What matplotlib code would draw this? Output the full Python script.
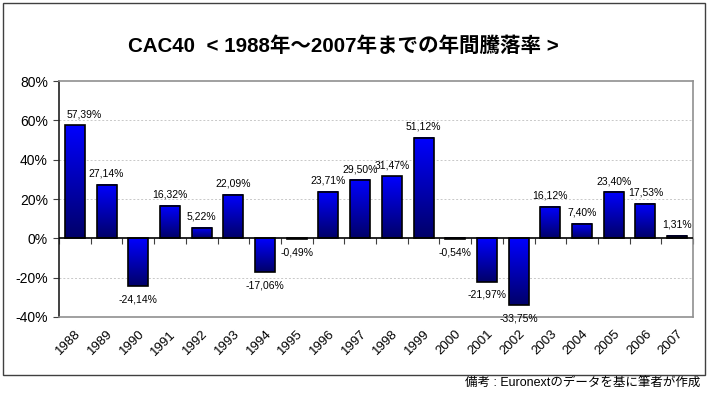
import numpy as np
import matplotlib
matplotlib.use("Agg")
import matplotlib.pyplot as plt
from matplotlib.colors import LinearSegmentedColormap
from matplotlib.patches import Rectangle

plt.rcParams['font.family'] = ['Liberation Sans', 'Noto Sans CJK JP', 'DejaVu Sans']

years = ['1988', '1989', '1990', '1991', '1992', '1993', '1994', '1995', '1996', '1997',
         '1998', '1999', '2000', '2001', '2002', '2003', '2004', '2005', '2006', '2007']
returns = [57.39, 27.14, -24.14, 16.32, 5.22, 22.09, -17.06, -0.49, 23.71, 29.50,
           31.47, 51.12, -0.54, -21.97, -33.75, 16.12, 7.40, 23.40, 17.53, 1.31]
yticks = [-40, -20, 0, 20, 40, 60, 80]
title = 'CAC40  < 1988年～2007年までの年間騰落率 >'
caption = '備考 : Euronextのデータを基に筆者が作成'

fig = plt.figure(figsize=(7.15, 3.97), dpi=100)
fig.patches.append(Rectangle((3/715, 1 - 375/397), 702/715, 372/397, transform=fig.transFigure,
                             fill=False, edgecolor='#404040', linewidth=1.0, zorder=0))

ax = fig.add_axes([59/715, 1 - 317/397, 634/715, 236/397])
x = np.arange(len(years))
bars = ax.bar(x, returns, width=0.63, color='none', edgecolor='black', linewidth=1.2, zorder=3)

cmap = LinearSegmentedColormap.from_list('g', ['#000068', '#0000ff'])
grad = np.linspace(0, 1, 256).reshape(-1, 1)
for b in bars:
    x0, y0 = b.get_x(), b.get_y()
    w, h = b.get_width(), b.get_height()
    ylo, yhi = min(y0, y0 + h), max(y0, y0 + h)
    ax.imshow(grad, cmap=cmap, origin='lower', aspect='auto',
              extent=(x0, x0 + w, ylo, yhi), zorder=2, interpolation='bilinear')

for i, (xi, v) in enumerate(zip(x, returns)):
    lab = f'{v:.2f}%'.replace('.', ',')
    dx = 7 if i == 0 else 0
    if v >= 0:
        ax.annotate(lab, (xi, v), xytext=(dx, 4.5), textcoords='offset points',
                    ha='center', va='bottom', fontsize=7.5)
    else:
        ax.annotate(lab, (xi, v), xytext=(dx, -6), textcoords='offset points',
                    ha='center', va='top', fontsize=7.5)

ax.set_xlim(-0.5, len(years) - 0.5)
ax.set_ylim(-40, 80)
ax.set_yticks(yticks)
ax.set_yticklabels([f'{t}%' for t in yticks], fontsize=10)
ax.set_xticks(x)
ax.set_xticklabels(years, rotation=45, ha='right', rotation_mode='anchor', fontsize=9.5)
ax.tick_params(axis='x', length=0, pad=8)
ax.tick_params(axis='y', length=4, direction='out', color='#404040', pad=4)

for t in yticks:
    if t not in (0, 80, -40):
        ax.axhline(t, color='#c8c8c8', linestyle=(0, (2, 2)), linewidth=0.7, zorder=1)
ax.axhline(0, color='black', linewidth=1.2, zorder=4)

for s in ['top', 'right', 'bottom']:
    ax.spines[s].set_color('#909090')
    ax.spines[s].set_linewidth(1.2)
ax.spines['left'].set_color('#202020')
ax.spines['left'].set_linewidth(1.2)

sec = ax.secondary_xaxis(1/3)
sec.set_xticks(np.arange(-0.5, len(years), 1.0))
sec.set_xticklabels([])
sec.tick_params(axis='x', direction='out', length=4, width=0.8, color='#404040')
sec.spines['bottom'].set_visible(False)
sec.spines['top'].set_visible(False)

fig.text(343/715, 1 - 46/397, title, ha='center', va='center', fontsize=14.8, fontweight='bold')
fig.text(700/715, 1 - 384/397, caption, ha='right', va='center', fontsize=9)

fig.savefig('out.png', dpi=100, facecolor='white')
